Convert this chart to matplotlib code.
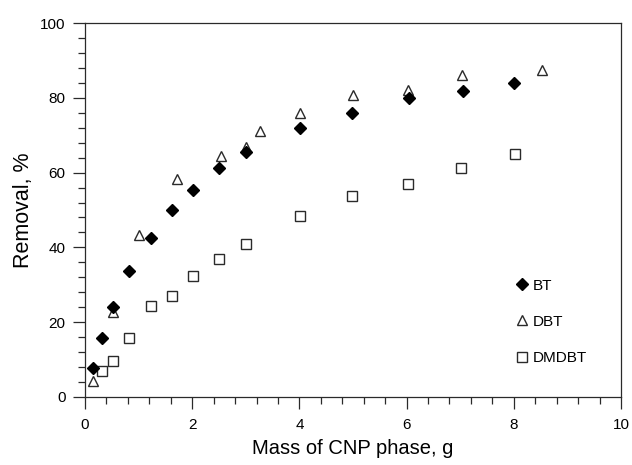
import numpy as np
import matplotlib
matplotlib.use("Agg")
import matplotlib.pyplot as plt
from matplotlib.ticker import MultipleLocator

plt.rcParams['font.family'] = ['Liberation Sans', 'DejaVu Sans']

# data
bt_x = [0.14, 0.32, 0.53, 0.82, 1.23, 1.62, 2.01, 2.5, 3.0, 4.01, 4.99, 6.04, 7.05, 8.01]
bt_y = [7.6, 15.6, 23.9, 33.7, 42.5, 50.0, 55.3, 61.3, 65.6, 72.0, 76.0, 80.1, 81.8, 84.1]

dbt_x = [0.14, 0.53, 1.01, 1.71, 2.54, 3.0, 3.26, 4.01, 5.0, 6.02, 7.03, 8.52]
dbt_y = [4.2, 22.7, 43.3, 58.3, 64.4, 66.9, 71.1, 76.1, 80.7, 82.1, 86.1, 87.4]

dmdbt_x = [0.32, 0.53, 0.82, 1.23, 1.63, 2.01, 2.5, 3.0, 4.01, 4.99, 6.02, 7.01, 8.02]
dmdbt_y = [6.9, 9.6, 15.6, 24.3, 26.9, 32.3, 36.8, 40.9, 48.4, 53.7, 56.9, 61.3, 64.9]

edge = '#2a2a2a'

fig = plt.figure(figsize=(6.32, 4.65), dpi=100)
ax = fig.add_axes([0.1345, 0.1469, 0.848, 0.803])

ax.plot(bt_x, bt_y, linestyle='none', marker='D', ms=6.1, color='black', label='BT', zorder=4)
ax.plot(dbt_x, dbt_y, linestyle='none', marker='^', ms=7.5, mfc='white', mec=edge, mew=1.0, label='DBT', zorder=3)
ax.plot(dmdbt_x, dmdbt_y, linestyle='none', marker='s', ms=7.8, mfc='white', mec=edge, mew=1.0, label='DMDBT', zorder=3)

ax.set_xlim(0, 10)
ax.set_ylim(0, 100)
ax.xaxis.set_major_locator(MultipleLocator(2))
ax.xaxis.set_minor_locator(MultipleLocator(0.4))
ax.yaxis.set_major_locator(MultipleLocator(20))
ax.yaxis.set_minor_locator(MultipleLocator(4))
ax.tick_params(which='major', direction='out', length=8.6, width=0.9, color=edge, labelsize=11)
ax.tick_params(which='minor', direction='out', length=4.8, width=0.9, color=edge)
ax.tick_params(axis='x', which='major', pad=7)
ax.tick_params(axis='y', which='major', pad=5.5)
for s in ax.spines.values():
    s.set_linewidth(0.9)
    s.set_color(edge)

ax.set_xlabel('Mass of CNP phase, g', fontsize=14.5, labelpad=4.5)
ax.set_ylabel('Removal, %', fontsize=15.5, labelpad=4.0)

ax.legend(loc='lower right', bbox_to_anchor=(0.937, 0.085), borderpad=0, frameon=False, fontsize=11,
          handletextpad=0.1, labelspacing=1.45, handlelength=1.2, borderaxespad=0)

fig.savefig('out.png', dpi=100)
